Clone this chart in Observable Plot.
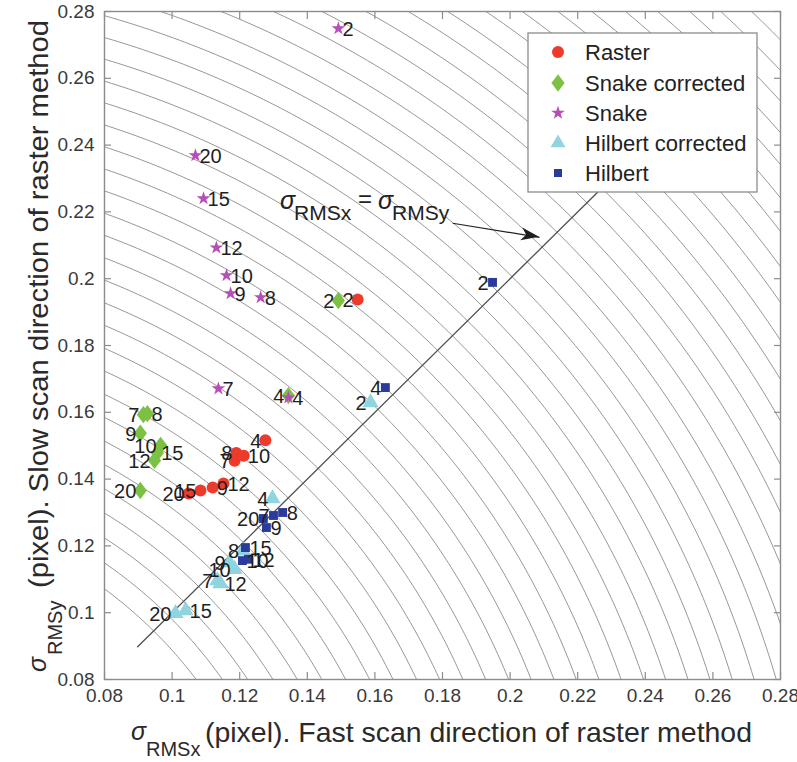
<!DOCTYPE html>
<html><head><meta charset="utf-8">
<script src="https://cdn.jsdelivr.net/npm/d3@7"></script>
<script src="https://cdn.jsdelivr.net/npm/@observablehq/plot@0.6"></script>
<style>
body{margin:0;background:#fff}
svg{font-family:"Liberation Sans",Arial,Helvetica,sans-serif}
</style>
</head><body><div id="chart"></div>
<script>
// ---- data ----
const labels = [2, 4, 7, 8, 9, 10, 12, 15, 20];
const seriesNames = ["Raster", "Snake corrected", "Snake", "Hilbert corrected", "Hilbert"];

const rasterX = [0.1549, 0.1276, 0.1185, 0.1190, 0.1120, 0.1212, 0.1152, 0.1084, 0.1049];
const rasterY = [0.1938, 0.1516, 0.1455, 0.1478, 0.1375, 0.1470, 0.1387, 0.1366, 0.1357];

const snakeCorrX = [0.1492, 0.1344, 0.0915, 0.0927, 0.0906, 0.0966, 0.0948, 0.0956, 0.0906];
const snakeCorrY = [0.1935, 0.1650, 0.1593, 0.1596, 0.1537, 0.1501, 0.1456, 0.1478, 0.1366];

const snakeX = [0.1492, 0.1344, 0.1137, 0.1262, 0.1173, 0.1161, 0.1131, 0.1093, 0.1069];
const snakeY = [0.2749, 0.1644, 0.1671, 0.1944, 0.1956, 0.2010, 0.2093, 0.2240, 0.2369];

const hilbCorrX = [0.1587, 0.1297, 0.1134, 0.1210, 0.1170, 0.1185, 0.1143, 0.1040, 0.1010];
const hilbCorrY = [0.1629, 0.1342, 0.1096, 0.1185, 0.1150, 0.1130, 0.1087, 0.1006, 0.0998];

const hilbX = [0.1948, 0.1631, 0.1300, 0.1327, 0.1279, 0.1208, 0.1226, 0.1217, 0.1270];
const hilbY = [0.1989, 0.1674, 0.1291, 0.1300, 0.1255, 0.1156, 0.1160, 0.1195, 0.1282];

// which side of the marker each number label sits on
const rasterSide   = ["L","L","L","L","R","R","R","L","L"];
const snakeCorrSide= ["L","L","L","R","L","L","L","R","L"];
const snakeSide    = ["R","R","R","R","R","R","R","R","R"];
const hilbCorrSide = ["L","L","L","L","L","L","R","R","L"];
const hilbSide     = ["L","L","L","R","R","R","R","R","L"];

const xTicks = [0.08, 0.10, 0.12, 0.14, 0.16, 0.18, 0.20, 0.22, 0.24, 0.26, 0.28];
const xTickLabels = ["0.08","0.1","0.12","0.14","0.16","0.18","0.2","0.22","0.24","0.26","0.28"];
const yTicks = [0.08, 0.10, 0.12, 0.14, 0.16, 0.18, 0.20, 0.22, 0.24, 0.26, 0.28];
const yTickLabels = ["0.08","0.1","0.12","0.14","0.16","0.18","0.2","0.22","0.24","0.26","0.28"];

// concentric reference arcs (radius of sqrt(x^2+y^2))
const arcRadii = [0.1337,0.1400,0.1462,0.1525,0.1587,0.1650,0.1712,0.1775,0.1837,0.1900,0.1962,0.2025,
  0.2087,0.2150,0.2212,0.2275,0.2337,0.2400,0.2462,0.2525,0.2587,0.2650,0.2712,0.2775,0.2837,0.2900,
  0.2962,0.3025,0.3087,0.3150,0.3212,0.3275,0.3337,0.3400,0.3462,0.3525,0.3587,0.3650,0.3712,0.3775,
  0.3837,0.3900,0.3962];
// sigma_x = sigma_y line ends
const diagEnds = [0.0898, 0.2265];
// annotation arrow (start, tip) in data units
const arrowFrom = [0.1830, 0.2166];
const arrowTo = [0.2087, 0.2124];

// ---- styles ----
const diamondSym = {
  draw(ctx, size) {
    const s = Math.sqrt(size);
    const h = 0.82 * s, w = 0.62 * s;
    ctx.moveTo(0, -h); ctx.lineTo(w, 0); ctx.lineTo(0, h); ctx.lineTo(-w, 0); ctx.closePath();
  }
};
const series = [
  {name: seriesNames[0], x: rasterX, y: rasterY, side: rasterSide, symbol: "circle", d3sym: d3.symbolCircle, color: "#ee3a2b", r: 6, lr: 6},
  {name: seriesNames[1], x: snakeCorrX, y: snakeCorrY, side: snakeCorrSide, symbol: diamondSym, d3sym: diamondSym, color: "#7cc143", r: 6, lr: 6},
  {name: seriesNames[2], x: snakeX, y: snakeY, side: snakeSide, symbol: "star", d3sym: d3.symbolStar, color: "#b64db8", r: 4.3, lr: 4.3},
  {name: seriesNames[3], x: hilbCorrX, y: hilbCorrY, side: hilbCorrSide, symbol: "triangle", d3sym: d3.symbolTriangle, color: "#8fd4df", r: 6, lr: 5.5},
  {name: seriesNames[4], x: hilbX, y: hilbY, side: hilbSide, symbol: "square", d3sym: d3.symbolSquare, color: "#2a3b9b", r: 5, lr: 4.5}
];

const points = series.flatMap(s => labels.map((l, i) => ({series: s.name, x: s.x[i], y: s.y[i], label: String(l), side: s.side[i]})));

const arcPts = arcRadii.flatMap(r => d3.range(0, 241).map(k => {
  const a = (k / 240) * Math.PI / 2;
  return {r, x: r * Math.cos(a), y: r * Math.sin(a)};
}));
const diag = diagEnds.map(v => ({x: v, y: v}));

const W = 797, H = 762;
const fmtX = d => xTickLabels[xTicks.findIndex(t => Math.abs(t - d) < 1e-9)] ?? "";
const fmtY = d => yTickLabels[yTicks.findIndex(t => Math.abs(t - d) < 1e-9)] ?? "";
const axisCol = "#8c8c8c";

const chart = Plot.plot({
  width: W, height: H,
  marginLeft: 104, marginRight: 17, marginTop: 11, marginBottom: 83,
  x: {domain: [0.08, 0.28]},
  y: {domain: [0.08, 0.28]},
  style: {fontFamily: "'Liberation Sans', Arial, sans-serif", background: "#fff"},
  marks: [
    Plot.line(arcPts, {x: "x", y: "y", z: "r", stroke: "#6a6a6a", strokeWidth: 0.7, clip: true}),
    Plot.line(diag, {x: "x", y: "y", stroke: "#505050", strokeWidth: 1.3}),
    Plot.frame({stroke: axisCol, strokeWidth: 1.4}),
    Plot.axisX(xTicks, {anchor: "bottom", tickSize: -7, tickFormat: () => "", stroke: axisCol, strokeWidth: 1.2}),
    Plot.axisX(xTicks, {anchor: "top", tickSize: -7, tickFormat: () => "", stroke: axisCol, strokeWidth: 1.2}),
    Plot.axisY(yTicks, {anchor: "left", tickSize: -7, tickFormat: () => "", stroke: axisCol, strokeWidth: 1.2}),
    Plot.axisY(yTicks, {anchor: "right", tickSize: -7, tickFormat: () => "", stroke: axisCol, strokeWidth: 1.2}),
    Plot.axisX(xTicks, {anchor: "bottom", tickSize: 0, tickPadding: 9, tickFormat: fmtX, fontSize: 19, fill: "#3a3a3a"}),
    Plot.axisY(yTicks, {anchor: "left", tickSize: 0, tickPadding: 10, tickFormat: fmtY, fontSize: 19, fill: "#3a3a3a"}),
    ...series.map(s => Plot.dot(points.filter(p => p.series === s.name), {x: "x", y: "y", symbol: s.symbol, fill: s.color, r: s.r})),
    Plot.text(points.filter(p => p.side === "L"), {x: "x", y: "y", text: "label", textAnchor: "end", dx: -4, dy: 1, fontSize: 20, fill: "#1f1f1f"}),
    Plot.text(points.filter(p => p.side === "R"), {x: "x", y: "y", text: "label", textAnchor: "start", dx: 4, dy: 1, fontSize: 20, fill: "#1f1f1f"}),
    Plot.link([{x1: arrowFrom[0], y1: arrowFrom[1], x2: arrowTo[0], y2: arrowTo[1]}], {x1: "x1", y1: "y1", x2: "x2", y2: "y2", stroke: "#222", strokeWidth: 1.2})
  ]
});
document.getElementById("chart").appendChild(chart);

// ---- extras drawn with d3 into the same SVG ----
const svg = d3.select(chart);
const xs = chart.scale("x"), ys = chart.scale("y");
const px = v => xs.apply(v), py = v => ys.apply(v);

// arrowhead
{
  const T = [px(arrowTo[0]), py(arrowTo[1])];
  const S = [px(arrowFrom[0]), py(arrowFrom[1])];
  const L = Math.hypot(T[0] - S[0], T[1] - S[1]);
  const u = [(T[0] - S[0]) / L, (T[1] - S[1]) / L];
  const n = [-u[1], u[0]];
  const hl = 18, hw = 6.5, back = 13;
  const pts = [
    T,
    [T[0] - hl * u[0] + hw * n[0], T[1] - hl * u[1] + hw * n[1]],
    [T[0] - back * u[0], T[1] - back * u[1]],
    [T[0] - hl * u[0] - hw * n[0], T[1] - hl * u[1] - hw * n[1]]
  ];
  svg.append("polygon").attr("points", pts.map(p => p.join(",")).join(" ")).attr("fill", "#1e1e1e");
}

// annotation sigma_RMSx = sigma_RMSy
{
  const g = svg.append("g").attr("fill", "#222").attr("text-anchor", "start");
  g.append("text").attr("x", 280).attr("y", 209).attr("font-size", 25).attr("font-style", "italic").text("σ");
  g.append("text").attr("x", 294).attr("y", 220).attr("font-size", 21).text("RMSx");
  g.append("text").attr("x", 358).attr("y", 207).attr("font-size", 24).text("=");
  g.append("text").attr("x", 378).attr("y", 209).attr("font-size", 25).attr("font-style", "italic").text("σ");
  g.append("text").attr("x", 392).attr("y", 220).attr("font-size", 21).text("RMSy");
}

// axis titles
{
  const g = svg.append("g").attr("fill", "#2a2a2a").attr("text-anchor", "start");
  g.append("text").attr("x", 131).attr("y", 740).attr("font-size", 25).attr("font-style", "italic").text("σ");
  g.append("text").attr("x", 146).attr("y", 756).attr("font-size", 20).text("RMSx");
  g.append("text").attr("x", 205).attr("y", 742).attr("font-size", 28)
    .attr("textLength", 547).attr("lengthAdjust", "spacingAndGlyphs")
    .text("(pixel). Fast scan direction of raster method");

  const gy = svg.append("g").attr("fill", "#2a2a2a").attr("text-anchor", "start");
  gy.append("text").attr("transform", "translate(46,672) rotate(-90)").attr("font-size", 25).attr("font-style", "italic").text("σ");
  gy.append("text").attr("transform", "translate(62,655) rotate(-90)").attr("font-size", 20).text("RMSy");
  gy.append("text").attr("transform", "translate(48,588) rotate(-90)").attr("font-size", 28)
    .attr("textLength", 568).attr("lengthAdjust", "spacingAndGlyphs")
    .text("(pixel). Slow scan direction of raster method");
}

// legend
{
  const g = svg.append("g").attr("text-anchor", "start");
  g.append("rect").attr("x", 528).attr("y", 33).attr("width", 229).attr("height", 159)
    .attr("fill", "#fff").attr("stroke", "#8c8c8c").attr("stroke-width", 1.3);
  const rows = [52, 83, 113, 143, 173];
  series.forEach((s, i) => {
    g.append("path").attr("transform", `translate(558,${rows[i]})`)
      .attr("d", d3.symbol(s.d3sym, Math.PI * s.lr * s.lr)())
      .attr("fill", s.color);
    g.append("text").attr("x", 585).attr("y", rows[i] + 8).attr("font-size", 22).attr("fill", "#222").text(s.name);
  });
}
</script>
</body></html>
